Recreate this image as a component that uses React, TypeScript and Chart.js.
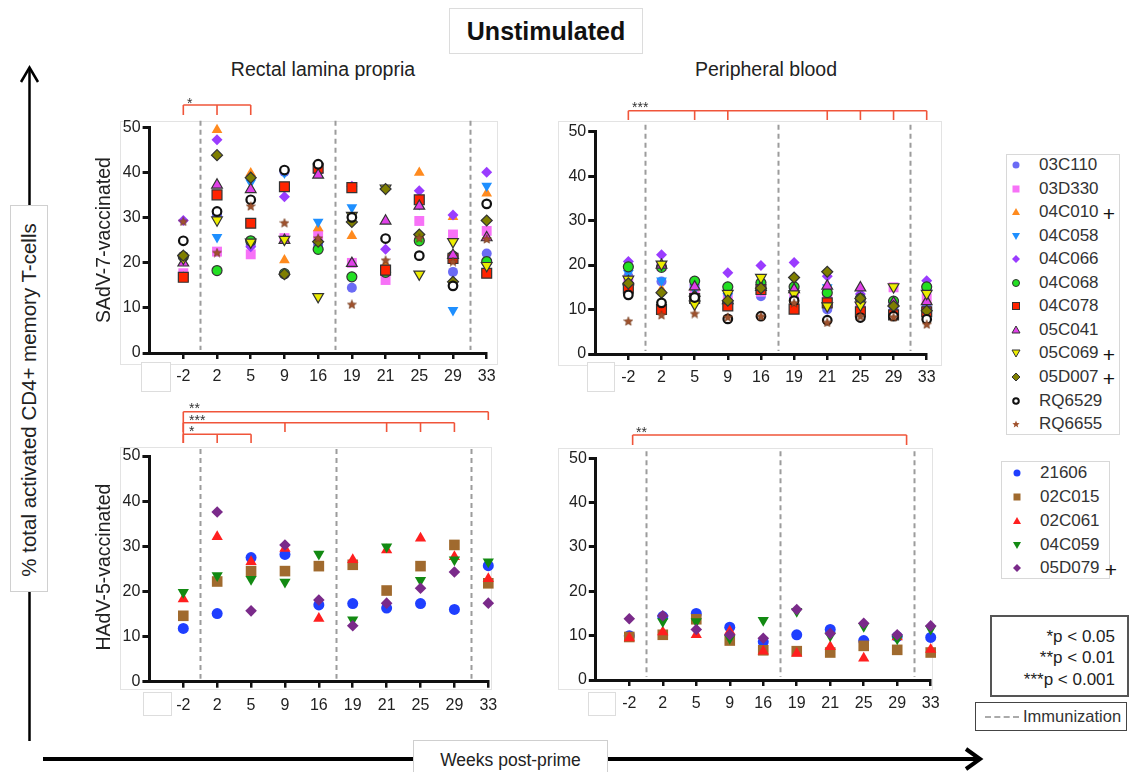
import React, { useEffect, useRef } from 'react';
import { Chart, registerables } from 'chart.js';
Chart.register(...registerables);

const FONT = '"Liberation Sans", Arial, Helvetica, sans-serif';
Chart.defaults.font.family = FONT;

// ---------------- DATA ----------------
const weeks = ['-2', '2', '5', '9', '16', '19', '21', '25', '29', '33'];
const yTicks = [0, 10, 20, 30, 40, 50];

const sadvSubjects = ['03C110', '03D330', '04C010', '04C058', '04C066', '04C068', '04C078', '05C041', '05C069', '05D007', 'RQ6529', 'RQ6655'];
const sadvPlus = [false, false, true, false, false, false, false, false, true, true, false, false];

const hadvSubjects = ['21606', '02C015', '02C061', '04C059', '05D079'];
const hadvPlus = [false, false, false, false, true];

// Rectal lamina propria, SAdV-7 (one row per subject, one value per week)
const rectalSAdV7: (number | null)[][] = [
  [17.5, 30.5, 24.0, 40.2, 24.0, 14.5, 18.9, 25.0, 18.0, 22.1], // 03C110
  [17.7, 22.5, 21.9, 25.5, 26.2, 20.0, 16.2, 29.3, 26.3, 27.1], // 03D330
  [16.8, 49.5, 39.9, 20.6, 27.7, 26.0, 19.5, 40.0, 30.2, 35.4], // 04C010
  [21.0, 25.7, 37.8, 40.0, 29.1, 32.3, 18.7, 33.0, 9.5, 37.1], // 04C058
  [29.4, 47.3, 23.6, 34.7, 40.0, 37.0, 23.0, 36.0, 30.6, 40.1], // 04C066
  [21.4, 18.3, 24.9, 17.6, 23.0, 16.9, 17.9, 24.9, 21.5, 20.3], // 04C068
  [16.8, 35.1, 28.8, 36.9, 41.0, 36.7, 18.4, 34.0, 21.0, 17.7], // 04C078
  [20.0, 37.3, 36.3, 25.0, 39.5, 19.9, 29.3, 32.6, 21.7, 25.6], // 05C041
  [21.0, 29.5, 24.6, 25.2, 12.5, 30.5, 36.6, 17.5, 24.7, 19.4], // 05C069
  [21.6, 43.9, 38.9, 17.5, 24.7, 29.1, 36.4, 26.3, 15.8, 29.4], // 05D007
  [24.9, 31.4, 34.0, 40.6, 41.9, 30.1, 25.4, 21.6, 14.9, 33.1], // RQ6529
  [29.2, 22.3, 32.6, 28.9, 25.5, 10.8, 20.6, 25.5, 20.3, 25.3], // RQ6655
];

// Peripheral blood, SAdV-7
const bloodSAdV7: (number | null)[][] = [
  [17.5, 16.3, 12.8, 11.5, 13.0, 12.5, 10.0, 10.5, 10.5, 11.0], // 03C110
  [16.5, 19.8, 14.0, 12.5, 14.0, 14.0, 12.5, 11.0, 15.0, 12.5], // 03D330
  [15.0, 14.5, 15.0, 12.5, 15.5, 15.0, 12.0, 10.0, 10.0, 12.0], // 04C010
  [18.2, 16.5, 14.5, 13.0, 14.5, 14.0, 15.0, 12.0, 11.0, 14.0], // 04C058
  [20.8, 22.3, 15.5, 18.3, 19.9, 20.6, 17.5, 13.5, 11.5, 16.5], // 04C066
  [19.6, 19.5, 16.4, 15.1, 16.0, 15.1, 13.8, 12.5, 11.9, 15.1], // 04C068
  [14.8, 10.0, 12.5, 10.8, 14.5, 10.1, 11.5, 9.5, 8.8, 9.5], // 04C078
  [16.3, 20.0, 15.1, 12.0, 15.0, 14.5, 15.3, 14.9, 11.5, 11.8], // 05C041
  [16.8, 20.2, 11.2, 13.6, 17.2, 13.5, 10.8, 11.0, 15.1, 13.6], // 05C069
  [15.9, 13.8, 13.0, 12.0, 14.8, 17.2, 18.5, 12.5, 10.8, 9.7], // 05D007
  [13.3, 11.5, 12.7, 7.9, 8.5, 12.0, 7.6, 8.2, 8.5, 7.8], // RQ6529
  [7.4, 8.8, 9.1, 8.3, 8.5, 11.5, 7.1, 8.5, 8.3, 6.7], // RQ6655
];

// Rectal lamina propria, HAdV-5
const rectalHAdV5: (number | null)[][] = [
  [11.8, 15.1, 27.5, 28.2, 17.0, 17.3, 16.3, 17.3, 16.0, 25.7], // 21606
  [14.6, 22.2, 24.5, 24.5, 25.6, 25.9, 20.2, 25.6, 30.3, 21.8], // 02C015
  [18.3, 32.1, 26.6, 29.5, 14.0, 27.0, 29.2, 31.8, 27.7, 22.8], // 02C061
  [19.8, 23.5, 22.7, 22.1, 28.3, 13.7, 29.9, 22.5, 27.0, 26.6], // 04C059
  [null, 37.6, 15.7, 30.3, 18.1, 12.4, 17.4, 20.7, 24.3, 17.4], // 05D079
];

// Peripheral blood, HAdV-5
const bloodHAdV5: (number | null)[][] = [
  [10.0, 14.3, 15.0, 11.9, 8.6, 10.2, 11.4, 8.9, 9.8, 9.6], // 21606
  [9.7, 10.2, 13.7, 8.9, 6.7, 6.5, 6.2, 7.7, 6.8, 6.2], // 02C015
  [9.5, 10.8, 10.2, 11.0, 6.5, 6.0, 7.5, 4.9, 9.7, 6.9], // 02C061
  [null, 13.2, 13.2, 9.4, 13.5, 15.5, 10.0, 12.1, 9.3, 11.5], // 04C059
  [13.8, 14.5, 11.4, 10.2, 9.4, 15.9, 10.5, 12.8, 10.2, 12.2], // 05D079
];

// Immunization positions (between weeks)
const immunizations = [0.5, 4.5, 8.5];

// ---------------- STYLES ----------------
type Shape = 'circle' | 'square' | 'triangle' | 'down' | 'diamond' | 'star' | 'open';
type MStyle = { shape: Shape; fill: string; stroke: string | null };

const sadvStyles: MStyle[] = [
  { shape: 'circle', fill: '#6b6bf5', stroke: null },
  { shape: 'square', fill: '#f772f7', stroke: null },
  { shape: 'triangle', fill: '#ff8a1e', stroke: null },
  { shape: 'down', fill: '#1e8fff', stroke: null },
  { shape: 'diamond', fill: '#9a3cff', stroke: null },
  { shape: 'circle', fill: '#22e022', stroke: '#333' },
  { shape: 'square', fill: '#ff2400', stroke: '#333' },
  { shape: 'triangle', fill: '#e040e8', stroke: '#333' },
  { shape: 'down', fill: '#ecec00', stroke: '#333' },
  { shape: 'diamond', fill: '#7f7f00', stroke: '#333' },
  { shape: 'open', fill: '#ffffff', stroke: '#111' },
  { shape: 'star', fill: '#a0522d', stroke: null },
];
const hadvStyles: MStyle[] = [
  { shape: 'circle', fill: '#1f3fff', stroke: null },
  { shape: 'square', fill: '#a06a2e', stroke: null },
  { shape: 'triangle', fill: '#ff1f1f', stroke: null },
  { shape: 'down', fill: '#128a12', stroke: null },
  { shape: 'diamond', fill: '#7a2a8a', stroke: null },
];

type Bracket = { y: number; from: number; to: number; legs: number[]; legBottom: number; fromBottom?: number; label: string; lx: number; ly: number };
type PanelCfg = {
  canvas: { x: number; y: number; w: number; h: number };
  area: { left: number; right: number; top: number; bottom: number };
  series: (number | null)[][];
  names: string[];
  styles: MStyle[];
  big: boolean;
  brackets: Bracket[];
};

const panels: PanelCfg[] = [
  {
    canvas: { x: 100, y: 88, w: 410, h: 312 },
    area: { left: 149.6, right: 486.7, top: 127.7, bottom: 353 },
    series: rectalSAdV7, names: sadvSubjects, styles: sadvStyles, big: false,
    brackets: [{ y: 105, from: 0, to: 2, legs: [0, 1, 2], legBottom: 115, label: '*', lx: 187, ly: 100 }],
  },
  {
    canvas: { x: 545, y: 88, w: 410, h: 312 },
    area: { left: 595.2, right: 926.7, top: 131.7, bottom: 354 },
    series: bloodSAdV7, names: sadvSubjects, styles: sadvStyles, big: false,
    brackets: [{ y: 110.7, from: 0, to: 9, legs: [0, 2, 3, 6, 7, 8, 9], legBottom: 120, label: '***', lx: 632, ly: 104 }],
  },
  {
    canvas: { x: 100, y: 395, w: 410, h: 335 },
    area: { left: 149.4, right: 488.3, top: 456, bottom: 681.7 },
    series: rectalHAdV5, names: hadvSubjects, styles: hadvStyles, big: true,
    brackets: [
      { y: 411.7, from: 0, to: 9, legs: [9], legBottom: 420, fromBottom: 443, label: '**', lx: 189, ly: 405 },
      { y: 422.7, from: 0, to: 8, legs: [3, 6, 7, 8], legBottom: 432, label: '***', lx: 189, ly: 416.7 },
      { y: 434.3, from: 0, to: 2, legs: [1, 2], legBottom: 443, label: '*', lx: 189, ly: 428 },
    ],
  },
  {
    canvas: { x: 545, y: 395, w: 410, h: 335 },
    area: { left: 595.8, right: 930.7, top: 458.3, bottom: 680 },
    series: bloodHAdV5, names: hadvSubjects, styles: hadvStyles, big: true,
    brackets: [{ y: 435, from: 0.1, to: 8.28, legs: [0.1, 8.28], legBottom: 445, label: '**', lx: 636, ly: 429 }],
  },
];

function makeStar(size: number, fill: string) {
  const c = document.createElement('canvas');
  c.width = size; c.height = size;
  const g = c.getContext('2d')!;
  const cx = size / 2, cy = size / 2 + 0.4, R = size / 2 - 0.3, r = R * 0.45;
  g.beginPath();
  for (let k = 0; k < 10; k++) {
    const a = -Math.PI / 2 + (k * Math.PI) / 5;
    const rr = k % 2 === 0 ? R : r;
    g.lineTo(cx + rr * Math.cos(a), cy + rr * Math.sin(a));
  }
  g.closePath();
  g.fillStyle = fill; g.fill();
  g.strokeStyle = '#6b3518'; g.lineWidth = 0.6; g.stroke();
  return c;
}

const annotPlugin = {
  id: 'annot',
  beforeDatasetsDraw(chart: any, _a: any, opts: any) {
    const { ctx, chartArea } = chart;
    const x = chart.scales.x;
    ctx.save();
    ctx.strokeStyle = '#9c9c9c';
    ctx.lineWidth = 2;
    ctx.setLineDash([5, 4]);
    for (const v of opts.immun) {
      const px = Math.round(x.getPixelForValue(v)) + 0.5;
      ctx.beginPath();
      ctx.moveTo(px, chartArea.top - 7);
      ctx.lineTo(px, chartArea.bottom - 3);
      ctx.stroke();
    }
    ctx.restore();
  },
  afterDraw(chart: any, _a: any, opts: any) {
    const { ctx } = chart;
    const x = chart.scales.x;
    const off = opts.offY;
    ctx.save();
    for (const b of opts.brackets as Bracket[]) {
      ctx.strokeStyle = '#f0553a';
      ctx.lineWidth = 1.6;
      const x0 = x.getPixelForValue(b.from), x1 = x.getPixelForValue(b.to);
      ctx.beginPath();
      ctx.moveTo(x0, b.y - off); ctx.lineTo(x1, b.y - off);
      ctx.moveTo(x0, b.y - off); ctx.lineTo(x0, (b.fromBottom ?? b.legBottom) - off);
      for (const l of b.legs) {
        const px = x.getPixelForValue(l);
        ctx.moveTo(px, b.y - off); ctx.lineTo(px, b.legBottom - off);
      }
      ctx.stroke();
      ctx.fillStyle = '#333';
      ctx.font = `14px ${FONT}`;
      ctx.textBaseline = 'alphabetic';
      ctx.textAlign = 'left';
      ctx.fillText(b.label, b.lx - opts.offX, b.ly - off + 8);
    }
    ctx.restore();
  },
};

function buildConfig(cfg: PanelCfg): any {
  const { canvas, area } = cfg;
  const L = area.left - canvas.x;
  const R = canvas.x + canvas.w - area.right;
  const T = area.top - canvas.y;
  const B = canvas.y + canvas.h - area.bottom;
  const n = cfg.series.length;
  const star = makeStar(10, '#a0522d');
  const datasets = cfg.series.map((vals, i) => {
    const st = cfg.styles[i];
    const pts = vals.map((v, k) => (v == null ? null : { x: k, y: v })).filter(Boolean);
    let pointStyle: any = 'circle';
    let radius = cfg.big ? 5.5 : 5;
    let rotation = 0;
    switch (st.shape) {
      case 'square': pointStyle = 'rect'; radius = cfg.big ? 7.5 : 7; break;
      case 'triangle': pointStyle = 'triangle'; radius = cfg.big ? 6.5 : 6.2; break;
      case 'down': pointStyle = 'triangle'; rotation = 180; radius = cfg.big ? 6.5 : 6.2; break;
      case 'diamond': pointStyle = 'rectRot'; radius = cfg.big ? 5.8 : 5.5; break;
      case 'star': pointStyle = star; radius = 5; break;
      case 'open': pointStyle = 'circle'; radius = 4.3; break;
    }
    return {
      label: cfg.names[i],
      data: pts,
      pointStyle,
      rotation,
      pointRadius: radius,
      pointHoverRadius: radius,
      backgroundColor: st.fill,
      borderColor: st.stroke || st.fill,
      borderWidth: st.shape === 'open' ? 2.2 : st.stroke ? 1.2 : 0,
      showLine: false,
      clip: false,
      order: n - i,
    };
  });
  return {
    type: 'scatter',
    data: { datasets },
    plugins: [annotPlugin],
    options: {
      responsive: false,
      animation: false,
      events: [],
      layout: { padding: { top: T, right: R, left: 0, bottom: 0 } },
      plugins: {
        legend: { display: false },
        tooltip: { enabled: false },
        annot: { immun: immunizations, brackets: cfg.brackets, offY: canvas.y, offX: canvas.x },
      },
      scales: {
        x: {
          type: 'linear', min: -1, max: weeks.length - 1,
          afterBuildTicks: (s: any) => { s.ticks = weeks.map((_, i) => ({ value: i })); },
          afterFit: (s: any) => { s.height = B; },
          ticks: { callback: (v: any) => weeks[v] ?? '', font: { size: 16 }, color: '#222', padding: 8, maxRotation: 0, autoSkip: false },
          grid: { drawOnChartArea: false, drawTicks: true, tickLength: 6, lineWidth: 2.5, color: '#111' },
          border: { display: true, width: 3, color: '#111' },
        },
        y: {
          type: 'linear', min: 0, max: 50,
          afterBuildTicks: (s: any) => { s.ticks = yTicks.map((v) => ({ value: v })); },
          afterFit: (s: any) => { s.width = L; },
          ticks: { font: { size: 16 }, color: '#222', padding: 2 },
          grid: { drawOnChartArea: false, drawTicks: true, tickLength: 7, lineWidth: 3, color: '#111' },
          border: { display: true, width: 3, color: '#111' },
        },
      },
    },
  };
}

function Panel({ cfg }: { cfg: PanelCfg }) {
  const ref = useRef<HTMLCanvasElement>(null);
  useEffect(() => {
    const chart = new Chart(ref.current as HTMLCanvasElement, buildConfig(cfg));
    return () => chart.destroy();
  }, [cfg]);
  const { x, y, w, h } = cfg.canvas;
  return <canvas ref={ref} width={w} height={h} style={{ position: 'absolute', left: x, top: y, width: w, height: h }} />;
}

function Marker({ st, cx, cy }: { st: MStyle; cx: number; cy: number }) {
  const s = 7;
  const c = 7;
  const stroke = st.stroke || 'none';
  const sw = st.shape === 'open' ? 2 : st.stroke ? 1 : 0;
  let el: any = null;
  switch (st.shape) {
    case 'circle': el = <circle cx={c} cy={c} r={s / 2} fill={st.fill} stroke={stroke} strokeWidth={sw} />; break;
    case 'open': el = <circle cx={c} cy={c} r={2.8} fill="#fff" stroke="#111" strokeWidth={2} />; break;
    case 'square': el = <rect x={c - s / 2} y={c - s / 2} width={s} height={s} fill={st.fill} stroke={stroke} strokeWidth={sw} />; break;
    case 'triangle': el = <polygon points={`${c},${c - 4} ${c + 4},${c + 3} ${c - 4},${c + 3}`} fill={st.fill} stroke={stroke} strokeWidth={sw} />; break;
    case 'down': el = <polygon points={`${c},${c + 4} ${c + 4},${c - 3} ${c - 4},${c - 3}`} fill={st.fill} stroke={stroke} strokeWidth={sw} />; break;
    case 'diamond': el = <polygon points={`${c},${c - 4} ${c + 4},${c} ${c},${c + 4} ${c - 4},${c}`} fill={st.fill} stroke={stroke} strokeWidth={sw} />; break;
    case 'star': {
      const pts: string[] = [];
      for (let k = 0; k < 10; k++) {
        const a = -Math.PI / 2 + (k * Math.PI) / 5;
        const rr = k % 2 === 0 ? 3.8 : 1.7;
        pts.push(`${c + rr * Math.cos(a)},${c + 0.4 + rr * Math.sin(a)}`);
      }
      el = <polygon points={pts.join(' ')} fill={st.fill} />;
      break;
    }
  }
  return (
    <svg width={14} height={14} style={{ position: 'absolute', left: cx - 7, top: cy - 7 }}>
      {el}
    </svg>
  );
}

function Legend({ names, styles, plus, box, firstY, step, markerX, textX, plusX }: any) {
  return (
    <>
      <div style={{ position: 'absolute', left: box.x, top: box.y, width: box.w, height: box.h, border: '1px solid #d8d8d8', boxSizing: 'border-box', background: '#fff' }} />
      {names.map((nm: string, i: number) => {
        const cy = firstY + i * step;
        return (
          <React.Fragment key={nm}>
            <Marker st={styles[i]} cx={markerX} cy={cy} />
            <div style={{ position: 'absolute', left: textX, top: cy - 11, height: 22, lineHeight: '22px', fontSize: 17, color: '#333', whiteSpace: 'nowrap' }}>{nm}</div>
            {plus[i] && (
              <div style={{ position: 'absolute', left: plusX - 8, top: cy - 9, width: 16, height: 22, lineHeight: '22px', textAlign: 'center', fontSize: 21, color: '#111' }}>+</div>
            )}
          </React.Fragment>
        );
      })}
    </>
  );
}

const abs = (l: number, t: number, w: number, h: number, extra: any = {}) => ({ position: 'absolute' as const, left: l, top: t, width: w, height: h, boxSizing: 'border-box' as const, ...extra });

export default function App() {
  return (
    <div style={{ position: 'absolute', left: 0, top: 0, width: 1135, height: 772, overflow: 'hidden', background: '#fff', fontFamily: FONT }}>
      {/* faint image frames */}
      <div style={abs(120, 121, 378, 244, { border: '1px solid #e3e3e3' })} />
      <div style={abs(558, 121, 384, 245, { border: '1px solid #e3e3e3' })} />
      <div style={abs(120, 447, 372, 243, { border: '1px solid #e3e3e3' })} />
      <div style={abs(558, 448, 375, 242, { border: '1px solid #e3e3e3' })} />
      <div style={abs(141, 362, 30, 30, { border: '1px solid #ddd', background: '#fff' })} />
      <div style={abs(587, 362, 28, 30, { border: '1px solid #ddd', background: '#fff' })} />
      <div style={abs(143, 692, 29, 24, { border: '1px solid #ddd', background: '#fff' })} />
      <div style={abs(588, 692, 28, 24, { border: '1px solid #ddd', background: '#fff' })} />

      {/* arrows */}
      <svg width={1135} height={772} style={{ position: 'absolute', left: 0, top: 0 }}>
        <line x1={29.5} y1={741} x2={29.5} y2={68} stroke="#000" strokeWidth={2.5} />
        <polyline points="21,82 29.5,67.5 38,82" fill="none" stroke="#000" strokeWidth={2.5} />
        <line x1={43} y1={759} x2={978} y2={759} stroke="#000" strokeWidth={4} />
        <polyline points="966,749 980,759 966,769" fill="none" stroke="#000" strokeWidth={4} />
      </svg>

      {panels.map((p, i) => <Panel key={i} cfg={p} />)}

      {/* title */}
      <div style={abs(449, 8, 194, 46, { border: '1px solid #dcdcdc', textAlign: 'center', lineHeight: '44px', fontSize: 25, fontWeight: 'bold', color: '#111' })}>Unstimulated</div>
      <div style={abs(200, 56, 246, 26, { textAlign: 'center', lineHeight: '26px', fontSize: 19.5, color: '#222' })}>Rectal lamina propria</div>
      <div style={abs(640, 56, 252, 26, { textAlign: 'center', lineHeight: '26px', fontSize: 19.5, color: '#222' })}>Peripheral blood</div>

      {/* y axis label */}
      <div style={abs(10, 205, 38, 387, { border: '1px solid #d0d0d0', background: '#fff' })} />
      <div style={abs(29 - 200, 400 - 12, 400, 24, { transform: 'rotate(-90deg)', textAlign: 'center', lineHeight: '24px', fontSize: 20.5, color: '#222', whiteSpace: 'nowrap' })}>% total activated CD4+ memory T-cells</div>
      <div style={abs(103 - 120, 240 - 12, 240, 24, { transform: 'rotate(-90deg)', textAlign: 'center', lineHeight: '24px', fontSize: 19.5, color: '#222', whiteSpace: 'nowrap' })}>SAdV-7-vaccinated</div>
      <div style={abs(103 - 120, 567 - 12, 240, 24, { transform: 'rotate(-90deg)', textAlign: 'center', lineHeight: '24px', fontSize: 19.5, color: '#222', whiteSpace: 'nowrap' })}>HAdV-5-vaccinated</div>

      {/* x axis label */}
      <div style={abs(413, 740, 195, 36, { border: '1px solid #cfcfcf', background: '#fff', textAlign: 'center', lineHeight: '38px', fontSize: 17.5, color: '#222' })}>Weeks post-prime</div>

      {/* legends */}
      <Legend names={sadvSubjects} styles={sadvStyles} plus={sadvPlus} box={{ x: 1006, y: 154, w: 114, h: 281 }} firstY={165} step={23.55} markerX={1016} textX={1039} plusX={1109} />
      <Legend names={hadvSubjects} styles={hadvStyles} plus={hadvPlus} box={{ x: 1001, y: 461, w: 109, h: 118 }} firstY={473.3} step={23.75} markerX={1017} textX={1040} plusX={1111} />

      {/* p-values */}
      <div style={abs(990, 615, 139, 82, { border: '2px solid #555', background: '#fff' })} />
      {['*p < 0.05', '**p < 0.01', '***p < 0.001'].map((t, i) => (
        <div key={t} style={abs(990, 636.7 + i * 21.7 - 11, 125, 22, { textAlign: 'right', lineHeight: '22px', fontSize: 17, color: '#222', whiteSpace: 'nowrap' })}>{t}</div>
      ))}

      {/* immunization */}
      <div style={abs(975, 702, 152, 29, { border: '1.5px solid #444', background: '#fff' })} />
      <div style={abs(985, 716, 34, 2, { borderTop: '2px dashed #aaa' })} />
      <div style={abs(1023, 705, 104, 22, { lineHeight: '22px', fontSize: 16.5, color: '#333', whiteSpace: 'nowrap' })}>Immunization</div>
    </div>
  );
}
